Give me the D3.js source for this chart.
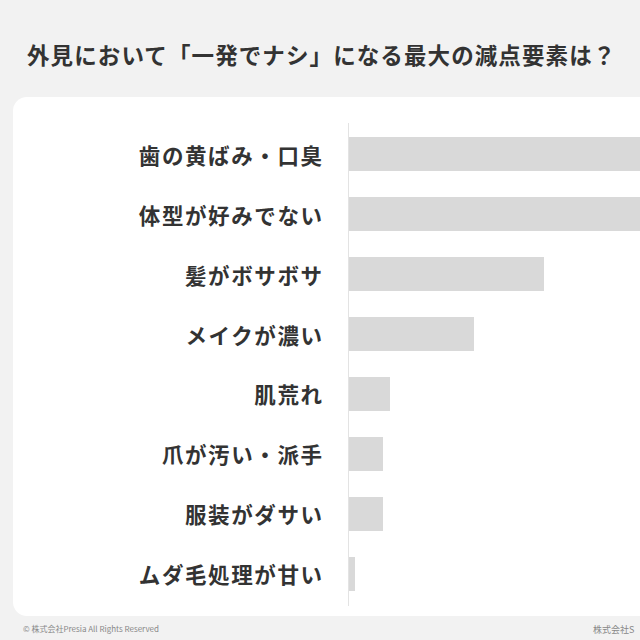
<!DOCTYPE html>
<html><head><meta charset="utf-8">
<script src="https://cdn.jsdelivr.net/npm/d3@7"></script>
<style>html,body{margin:0;padding:0;background:#f2f2f2;overflow:hidden}</style>
</head><body>
<script>
const title = "外見において「一発でナシ」になる最大の減点要素は？";
const categories = ["歯の黄ばみ・口臭","体型が好みでない","髪がボサボサ","メイクが濃い","肌荒れ","爪が汚い・派手","服装がダサい","ムダ毛処理が甘い"];
const values = [30.0, 29.5, 19.5, 12.5, 4.1, 3.4, 3.4, 0.6];
const footerLeft = "© 株式会社Presia All Rights Reserved";
const footerRight = "株式会社S";

const W = 640, H = 640;
const svg = d3.select("body").append("svg").attr("width", W).attr("height", H)
  .style("font-family", "'Noto Sans CJK JP','Noto Sans',sans-serif");

svg.append("rect").attr("width", W).attr("height", H).attr("fill", "#f2f2f2");

svg.append("text").attr("x", 27).attr("y", 53.5).attr("dominant-baseline", "central")
  .attr("font-size", 22.5).attr("font-weight", 700).attr("fill", "#333")
  .attr("letter-spacing", 1.1)
  .text(title);

// card
svg.append("rect").attr("x", 13).attr("y", 97).attr("width", 700).attr("height", 519)
  .attr("rx", 14).attr("fill", "#ffffff");

const x = d3.scaleLinear().domain([0, 10]).range([349, 449]);
const y = d3.scaleBand().domain(categories).range([124, 604]).paddingInner(0.4333).paddingOuter(0.2167);

svg.append("line").attr("x1", 348.5).attr("x2", 348.5).attr("y1", 123).attr("y2", 606)
  .attr("stroke", "#e3e3e3").attr("stroke-width", 1);

svg.selectAll("rect.bar").data(categories).enter().append("rect").attr("class", "bar")
  .attr("x", x(0)).attr("y", d => y(d)).attr("height", y.bandwidth())
  .attr("width", (d, i) => x(values[i]) - x(0)).attr("fill", "#d9d9d9");

svg.selectAll("text.lab").data(categories).enter().append("text").attr("class", "lab")
  .attr("x", 323.6).attr("y", d => y(d) + y.bandwidth() / 2).attr("text-anchor", "end")
  .attr("dominant-baseline", "central").attr("font-size", 21.5).attr("font-weight", 700)
  .attr("letter-spacing", 1.6)
  .attr("fill", "#333").text(d => d);

svg.append("text").attr("x", 23).attr("y", 628).attr("dominant-baseline", "central")
  .attr("font-size", 8).attr("fill", "#888").text(footerLeft);
svg.append("text").attr("x", 593).attr("y", 629).attr("dominant-baseline", "central")
  .attr("font-size", 9).attr("fill", "#888").text(footerRight);
</script>
</body></html>
